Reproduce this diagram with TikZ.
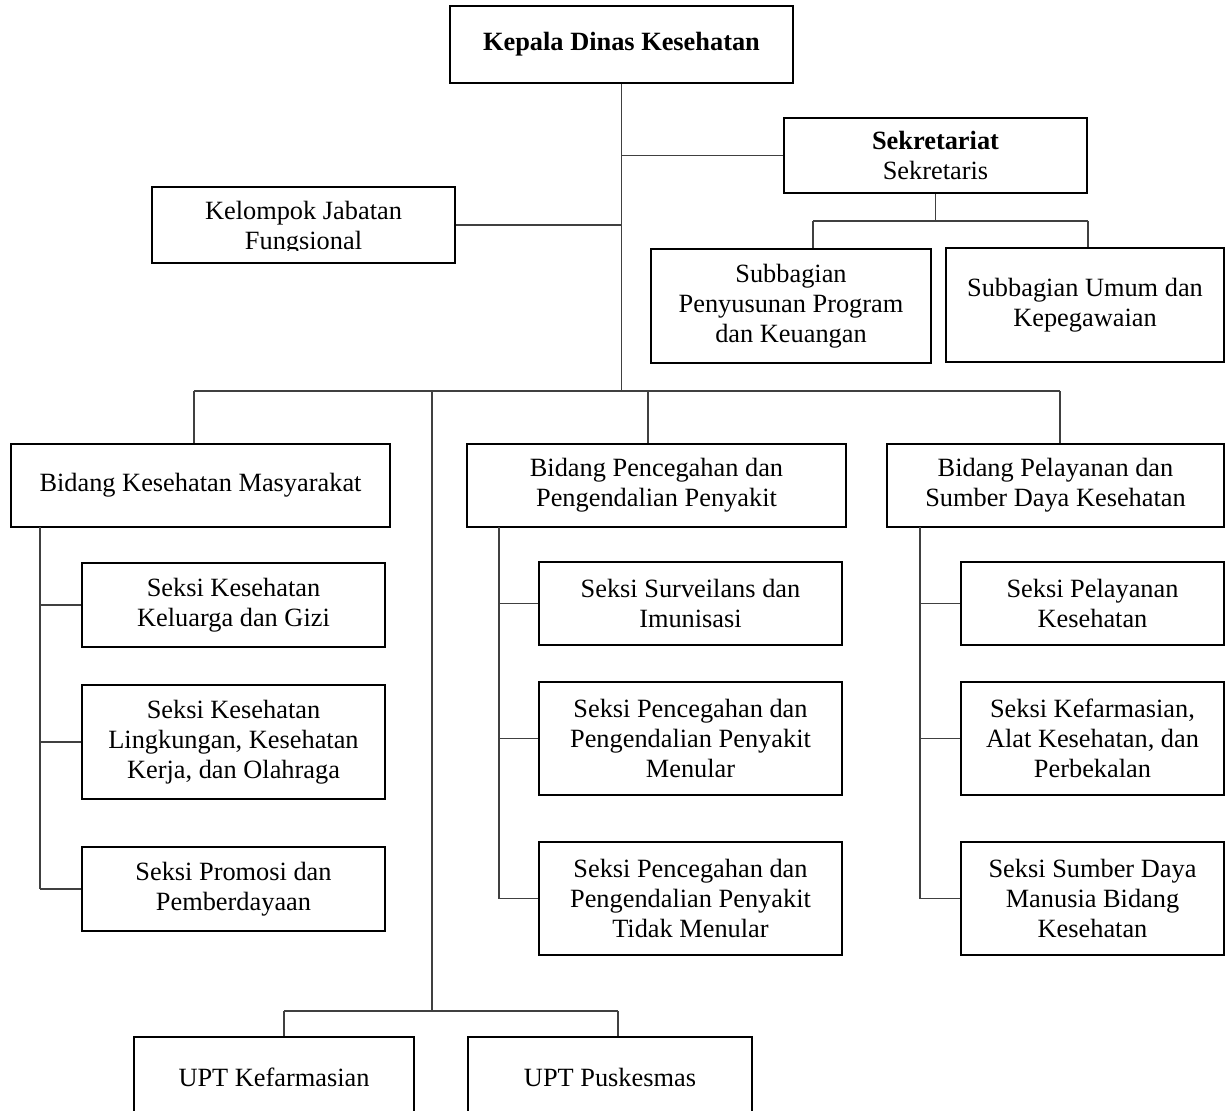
\documentclass[tikz,border=0pt]{standalone}
\usepackage{fontspec}
\setmainfont{Liberation Serif}
\begin{document}
\begin{tikzpicture}[x=0.02cm,y=-0.02cm,
    txt/.style={align=center,inner sep=0pt,font=\fontsize{15}{17}\selectfont},
    unitbox/.style={draw,txt,line width=1.1pt},
    conn/.style={line width=0.6pt,black!75}]
    \useasboundingbox (0,0) rectangle (1226,1111);

    \node[unitbox,minimum width=6.86cm,minimum height=1.54cm] (kadis) at (621.5,44.5) {\textbf{Kepala Dinas Kesehatan}};
    \node[unitbox,minimum width=6.06cm,minimum height=1.5cm] (sekr) at (935.5,155.5) {\textbf{Sekretariat}\\Sekretaris};
    \node[unitbox,minimum width=6.06cm,minimum height=1.52cm] (kjf) at (303.5,225) {};
    \begin{scope}
        \clip (152,187) rectangle (455,251);
        \node[txt] (kjftxt) at (303.5,228) {Kelompok Jabatan\\Fungsional};
    \end{scope}
    \node[unitbox,minimum width=5.6cm,minimum height=2.28cm] (sppk) at (791,306) {Subbagian\\Penyusunan Program\\dan Keuangan};
    \node[unitbox,minimum width=5.56cm,minimum height=2.28cm] (sumum) at (1085,305) {Subbagian Umum dan\\Kepegawaian};

    \node[unitbox,minimum width=7.58cm,minimum height=1.66cm] (bkm) at (200.5,485.5) {Bidang Kesehatan Masyarakat};
    \node[unitbox,minimum width=7.58cm,minimum height=1.66cm] (bppp) at (656.5,485.5) {Bidang Pencegahan dan\\Pengendalian Penyakit};
    \node[unitbox,minimum width=6.74cm,minimum height=1.66cm] (bpsdk) at (1055.5,485.5) {Bidang Pelayanan dan\\Sumber Daya Kesehatan};

    \node[unitbox,minimum width=6.06cm,minimum height=1.68cm] (k1) at (233.5,605) {Seksi Kesehatan\\Keluarga dan Gizi};
    \node[unitbox,minimum width=6.06cm,minimum height=2.28cm] (k2) at (233.5,742) {Seksi Kesehatan\\Lingkungan, Kesehatan\\Kerja, dan Olahraga};
    \node[unitbox,minimum width=6.06cm,minimum height=1.68cm] (k3) at (233.5,889) {Seksi Promosi dan\\Pemberdayaan};

    \node[unitbox,minimum width=6.06cm,minimum height=1.66cm] (p1) at (690.5,603.5) {Seksi Surveilans dan\\Imunisasi};
    \node[unitbox,minimum width=6.06cm,minimum height=2.26cm] (p2) at (690.5,738.5) {Seksi Pencegahan dan\\Pengendalian Penyakit\\Menular};
    \node[unitbox,minimum width=6.06cm,minimum height=2.26cm] (p3) at (690.5,898.5) {Seksi Pencegahan dan\\Pengendalian Penyakit\\Tidak Menular};

    \node[unitbox,minimum width=5.26cm,minimum height=1.66cm] (d1) at (1092.5,603.5) {Seksi Pelayanan\\Kesehatan};
    \node[unitbox,minimum width=5.26cm,minimum height=2.26cm] (d2) at (1092.5,738.5) {Seksi Kefarmasian,\\Alat Kesehatan, dan\\Perbekalan};
    \node[unitbox,minimum width=5.26cm,minimum height=2.26cm] (d3) at (1092.5,898.5) {Seksi Sumber Daya\\Manusia Bidang\\Kesehatan};

    \node[unitbox,minimum width=5.6cm,minimum height=1.6cm] (upt1) at (274,1077) {UPT Kefarmasian};
    \node[unitbox,minimum width=5.68cm,minimum height=1.6cm] (upt2) at (610,1077) {UPT Puskesmas};

    \coordinate (b1) at (194,391);
    \coordinate (b2) at (432,391);
    \coordinate (b3) at (648,391);
    \coordinate (b4) at (1060,391);
    \draw[conn] (kadis.south) -- (kadis.south |- b1);
    \draw[conn] (b1) -- (b4);
    \draw[conn] (b1) -- (b1 |- bkm.north);
    \draw[conn] (b3) -- (b3 |- bppp.north);
    \draw[conn] (b4) -- (b4 |- bpsdk.north);
    \draw[conn] (sekr.west) -- (sekr.west -| kadis.south);
    \draw[conn] (kjf.east) -- (kjf.east -| kadis.south);

    \coordinate (s1) at (813,221);
    \coordinate (s2) at (1088,221);
    \draw[conn] (sekr.south) -- (sekr.south |- s1);
    \draw[conn] (s1) -- (s2);
    \draw[conn] (s1) -- (s1 |- sppk.north);
    \draw[conn] (s2) -- (s2 |- sumum.north);

    \coordinate (k0) at (40,527);
    \coordinate (p0) at (499,527);
    \coordinate (d0) at (920,527);
    \foreach \c in {k,p,d} {
        \draw[conn] (\c0) -- (\c0 |- \c3.west);
        \foreach \i in {1,2,3}
            \draw[conn] (\c\i.west) -- (\c\i.west -| \c0);
    }

    \coordinate (u1) at (284,1011);
    \coordinate (u2) at (618,1011);
    \draw[conn] (b2) -- (b2 |- u1);
    \draw[conn] (u1) -- (u2);
    \draw[conn] (u1) -- (u1 |- upt1.north);
    \draw[conn] (u2) -- (u2 |- upt2.north);
\end{tikzpicture}
\end{document}
